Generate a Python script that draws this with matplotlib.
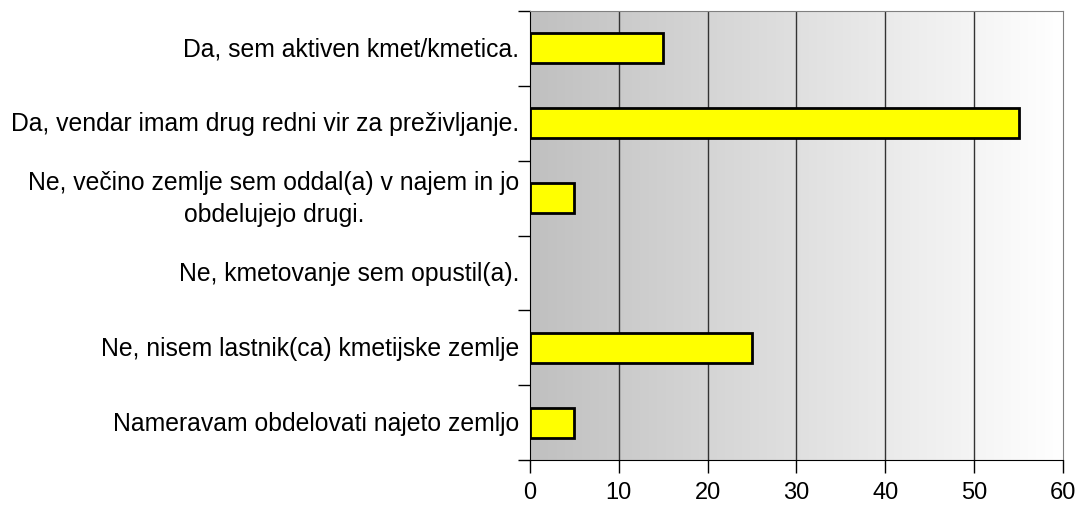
import matplotlib.pyplot as plt
import numpy as np
from matplotlib.colors import LinearSegmentedColormap

categories = ['Da, sem aktiven kmet/kmetica.',
              'Da, vendar imam drug redni vir za preživljanje.',
              'Ne, večino zemlje sem oddal(a) v najem in jo\nobdelujejo drugi.',
              'Ne, kmetovanje sem opustil(a).',
              'Ne, nisem lastnik(ca) kmetijske zemlje',
              'Nameravam obdelovati najeto zemljo']
values = [15, 55, 5, 0, 25, 5]
xticks = [0, 10, 20, 30, 40, 50, 60]

plt.rcParams['font.family'] = ['Liberation Sans', 'DejaVu Sans']
fig = plt.figure(figsize=(10.81, 5.06), dpi=100)
ax = fig.add_axes([0.4903, 0.0889, 0.4930, 0.8874])

n = len(categories)
y = np.arange(n)
cmap = LinearSegmentedColormap.from_list('bg', ['#c0c0c0', '#ffffff'])
grad = np.linspace(0, 1, 256).reshape(1, -1)
ax.imshow(grad, extent=[0, 60, n - 0.5, -0.5], aspect='auto', cmap=cmap, zorder=0)

for xv in xticks[1:-1]:
    ax.axvline(xv, color='#333333', lw=1, zorder=1)

lws = [2 if v > 0 else 0 for v in values]
ax.barh(y, values, height=0.4, color='#ffff00', edgecolor='black', lw=lws, zorder=2)

ax.set_xlim(0, 60)
ax.set_ylim(n - 0.5, -0.5)
ax.set_xticks(xticks)
ax.set_xticklabels([str(v) for v in xticks], fontsize=17)
ax.tick_params(axis='x', direction='out', length=9, width=1, pad=6)

ax.set_yticks(np.arange(-0.5, n, 1.0))
ax.set_yticklabels([])
ax.tick_params(axis='y', direction='out', length=9, width=1)
for i, lab in enumerate(categories):
    ax.text(-0.02, 1 - (i + 0.5) / n, lab, transform=ax.transAxes, ha='right',
            va='center', fontsize=17.8, multialignment='center', linespacing=1.45)

ax.spines['left'].set_color('black')
ax.spines['bottom'].set_color('black')
ax.spines['top'].set_color('#808080')
ax.spines['right'].set_color('#808080')

fig.savefig('out.png', dpi=100)
